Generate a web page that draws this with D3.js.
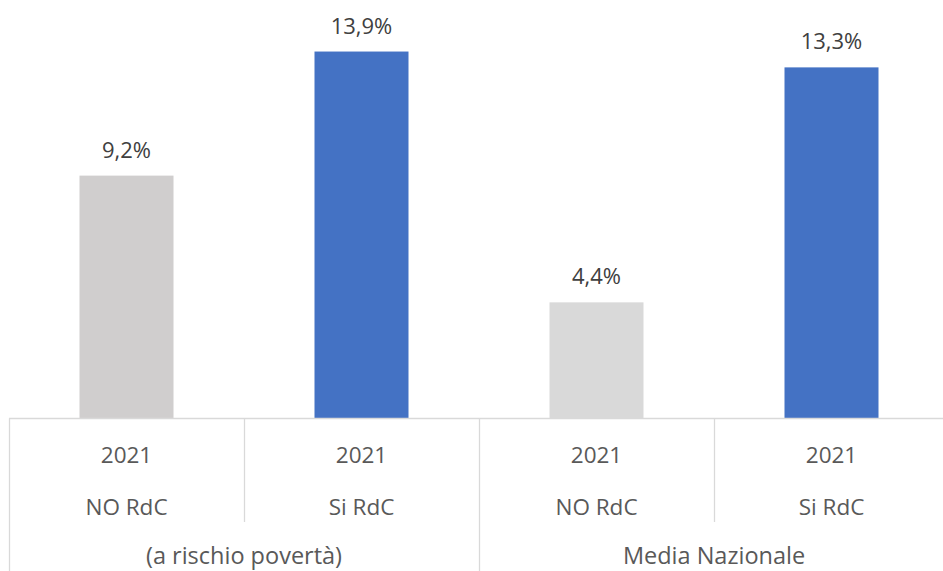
<!DOCTYPE html>
<html>
<head>
<meta charset="utf-8">
<script src="https://cdn.jsdelivr.net/npm/d3@7"></script>
<style>
  html, body { margin: 0; padding: 0; background: #fff; }
  svg { display: block; }
  text { font-family: "Open Sans", "Noto Sans", sans-serif; }
</style>
</head>
<body>
<svg id="chart" width="943" height="571"></svg>
<script>
// Values (%) per bar, with their three-level category labels
const years = ["2021", "2021", "2021", "2021"];
const subcats = ["NO RdC", "Si RdC", "NO RdC", "Si RdC"];
const groups = ["(a rischio povertà)", "Media Nazionale"];
const groupOf = [0, 0, 1, 1];
const values = [9.2, 13.9, 4.4, 13.3];
const colors = ["#D0CECE", "#4472C4", "#D9D9D9", "#4472C4"];

const W = 943, H = 571;
const plotLeft = 9, plotRight = 949, baseY = 418.5;

const svg = d3.select("#chart");

const x = d3.scaleBand()
  .domain(d3.range(values.length))
  .range([plotLeft, plotRight])
  .paddingInner(0.6)
  .paddingOuter(0.3);

const y = d3.scaleLinear().domain([0, 16]).range([baseY, baseY - 16 * 26.4]);

const fmt = v => d3.format(".1f")(v).replace(".", ",") + "%";

// Bars
svg.append("g").selectAll("rect")
  .data(values)
  .join("rect")
  .attr("x", (d, i) => x(i))
  .attr("width", x.bandwidth())
  .attr("y", d => y(d))
  .attr("height", d => y(0) - y(d))
  .attr("fill", (d, i) => colors[i]);

// Value labels above bars
svg.append("g").selectAll("text")
  .data(values)
  .join("text")
  .attr("x", (d, i) => x(i) + x.bandwidth() / 2)
  .attr("y", d => y(d) - 18)
  .attr("text-anchor", "middle")
  .attr("font-size", 22)
  .attr("fill", "#404040")
  .text(d => fmt(d));

// Category axis: baseline and separators
const axis = svg.append("g").attr("stroke", "#D9D9D9").attr("stroke-width", 1.3).attr("fill", "none");
axis.append("line").attr("x1", plotLeft).attr("x2", plotRight).attr("y1", baseY).attr("y2", baseY);

const step = x.step();
const edges = d3.range(values.length + 1).map(i => plotLeft + i * step);
edges.forEach((ex, i) => {
  const isGroupEdge = i === 0 || i === values.length || groupOf[i] !== groupOf[i - 1];
  axis.append("line")
    .attr("x1", Math.round(ex) + 0.5).attr("x2", Math.round(ex) + 0.5)
    .attr("y1", baseY).attr("y2", isGroupEdge ? H : 522);
});

// Year and subcategory labels
const centers = d3.range(values.length).map(i => x(i) + x.bandwidth() / 2);
const labelColor = "#595959";
svg.append("g").selectAll("text")
  .data(years)
  .join("text")
  .attr("x", (d, i) => centers[i])
  .attr("y", 463)
  .attr("text-anchor", "middle")
  .attr("font-size", 22.5)
  .attr("fill", labelColor)
  .text(d => d);

svg.append("g").selectAll("text")
  .data(subcats)
  .join("text")
  .attr("x", (d, i) => centers[i])
  .attr("y", 515)
  .attr("text-anchor", "middle")
  .attr("font-size", 22.5)
  .attr("fill", labelColor)
  .text(d => d);

// Group labels centred under their bars
svg.append("g").selectAll("text")
  .data(groups)
  .join("text")
  .attr("x", (d, g) => {
    const idx = d3.range(values.length).filter(i => groupOf[i] === g);
    return (centers[idx[0]] + centers[idx[idx.length - 1]]) / 2;
  })
  .attr("y", 564)
  .attr("text-anchor", "middle")
  .attr("font-size", 23.5)
  .attr("fill", labelColor)
  .text(d => d);
</script>
</body>
</html>
